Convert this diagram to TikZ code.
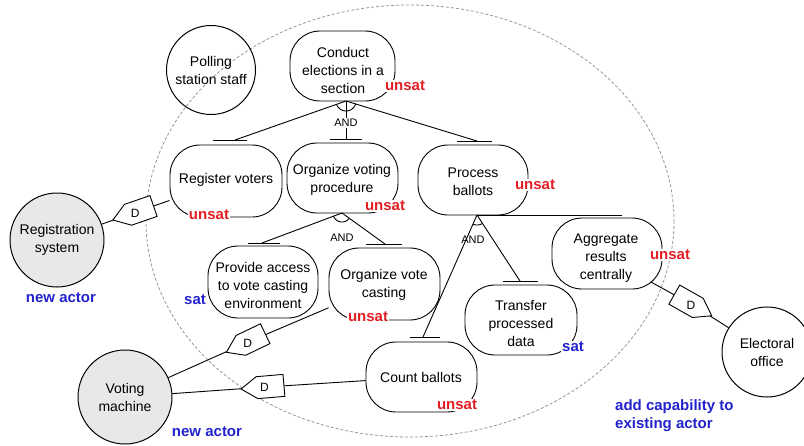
\documentclass[tikz,border=0pt]{standalone}
\usepackage{fontspec}
\setmainfont{Liberation Sans}
\definecolor{satred}{RGB}{225,30,35}
\definecolor{satblue}{RGB}{35,35,205}
\definecolor{actfill}{RGB}{232,232,232}
\definecolor{bnd}{RGB}{150,150,150}
\tikzset{
  goal/.style={draw, rounded corners=30pt, line width=0.9pt, inner sep=0pt},
  gtext/.style={align=center, font=\fontsize{14}{18}\selectfont, inner sep=0pt},
  actor/.style={draw, circle, line width=1pt, align=center, inner sep=0pt, font=\fontsize{14}{18}\selectfont},
  newactor/.style={actor, fill=actfill},
  statlab/.style={font=\fontsize{15}{18}\selectfont\bfseries, fill=white, inner sep=1pt},
  unsatlab/.style={statlab, text=satred},
  satlab/.style={statlab, text=satblue},
  notelab/.style={font=\fontsize{15}{18}\selectfont\bfseries, text=satblue, inner sep=0pt},
  andlab/.style={font=\fontsize{11}{12}\selectfont, inner sep=1pt},
  link/.style={line width=0.9pt},
  dbox/.style={draw, fill=white, line width=0.9pt},
  dlab/.style={font=\fontsize{12}{13}\selectfont, inner sep=0pt},
}
\begin{document}
\begin{tikzpicture}[x=1pt, y=-1pt]
\useasboundingbox (0,0) rectangle (804,445);
% actor boundary
\draw[bnd, line width=0.8pt, dash pattern=on 3pt off 2pt] (410,221) ellipse [x radius=264, y radius=216];

% actors
\node[actor, minimum size=89pt] (pss) at (211,70) {Polling\\station staff};
\node[newactor, minimum size=94pt] (regsys) at (57,240) {Registration\\system};
\node[newactor, minimum size=94pt] (vm) at (125,397) {Voting\\machine};
\node[actor, minimum size=90pt] (eo) at (767,352) {Electoral\\office};

% goals
\node[goal, minimum width=105pt, minimum height=70pt] (ce) at (342.5,66) {};
\node[gtext] (cet) at (343,70) {Conduct\\elections in a\\section};
\node[goal, minimum width=112pt, minimum height=72pt] (rv) at (226,181) {};
\node[gtext] (rvt) at (226,180) {Register voters};
\node[goal, minimum width=111pt, minimum height=70pt] (ovp) at (342.5,178) {};
\node[gtext] (ovpt) at (342,180) {Organize voting\\procedure};
\node[goal, minimum width=110pt, minimum height=70pt] (pb) at (473,180) {};
\node[gtext] (pbt) at (473,182) {Process\\ballots};
\node[goal, minimum width=110pt, minimum height=71pt] (ag) at (607,253.5) {};
\node[gtext] (agt) at (606,258) {Aggregate\\results\\centrally};
\node[goal, minimum width=110pt, minimum height=72pt] (pa) at (263,282) {};
\node[gtext] (pat) at (263,285) {Provide access\\to vote casting\\environment};
\node[goal, minimum width=111pt, minimum height=72pt] (ovc) at (384.5,284) {};
\node[gtext] (ovct) at (384,285) {Organize vote\\casting};
\node[goal, minimum width=112pt, minimum height=70pt] (tpd) at (521,320) {};
\node[gtext] (tpdt) at (521,323) {Transfer\\processed\\data};
\node[goal, minimum width=111pt, minimum height=70pt] (cb) at (421.5,377) {};
\node[gtext] (cbt) at (421,377) {Count ballots};

% decomposition junctions and bar points
\coordinate (j1) at (346,101);
\coordinate (j2) at (342,213);
\coordinate (j3) at (477,215);
\coordinate (brv) at (235,140);
\coordinate (bovp) at (346,139);
\coordinate (bpb) at (477,141);
\coordinate (bpa) at (262,243);
\coordinate (bovc) at (385,244);
\coordinate (bcb) at (423,337);
\coordinate (btpd) at (520,281);
\coordinate (bag) at (622,215);

\draw[link] (j1) -- (brv);
\draw[link] (j1) -- (bovp);
\draw[link] (j1) -- (bpb);
\draw[link] (j2) -- (bpa);
\draw[link] (j2) -- (bovc);
\draw[link] (j3) -- (bcb);
\draw[link] (j3) -- (btpd);
\draw[link] (j3) -- (bag);

% bars
\draw[link] (brv) ++(-22,0) -- ++(34,0);
\draw[link] (bovp) ++(-16,0) -- ++(32,0);
\draw[link] (bpb) ++(-20,0) -- ++(35,0);
\draw[link] (bpa) ++(-14,0) -- ++(32,0);
\draw[link] (bovc) ++(-19,0) -- ++(36,0);
\draw[link] (bcb) ++(-13,0) -- ++(30,0);
\draw[link] (btpd) ++(-17,0) -- ++(35,0);
\draw[link] (bag) ++(-34,0) -- ++(34,0);

% AND arcs
\draw[link, shift={(j1)}] plot[domain=16.9:160.5, samples=24] ({10*cos(\x)},{10*sin(\x)});
\draw[link, shift={(j2)}] plot[domain=34.9:160, samples=24] ({9*cos(\x)},{9*sin(\x)});
\draw[link, shift={(j3)}] plot[domain=56.9:113.9, samples=16] ({10*cos(\x)},{10*sin(\x)});

\node[andlab, fill=white] (and1) at (346,123) {AND};
\node[andlab] (and2) at (342,238) {AND};
\node[andlab] (and3) at (473,240) {AND};

% dependencies
\coordinate (d1) at (133.2,213);
\coordinate (d2) at (245.8,343);
\coordinate (d3) at (262.5,387.2);
\coordinate (d4) at (693,305.2);
\coordinate (agc) at (651,282);

\draw[link] (regsys) -- (d1) -- (rv);
\draw[link] (vm) -- (d2) -- (ovc);
\draw[link] (vm) -- (d3) -- (cb);
\draw[link] (eo) -- (d4) -- (agc);

\begin{scope}[shift={(d1)}, rotate=199]
  \draw[dbox] (21.5,0) -- (5.5,11) -- (-21.5,11) -- (-21.5,-11) -- (5.5,-11) -- cycle;
\end{scope}
\begin{scope}[shift={(d2)}, rotate=205.6]
  \draw[dbox] (21.5,0) -- (5.5,11) -- (-21.5,11) -- (-21.5,-11) -- (5.5,-11) -- cycle;
\end{scope}
\begin{scope}[shift={(d3)}, rotate=184.9]
  \draw[dbox] (21.5,0) -- (5.5,11) -- (-21.5,11) -- (-21.5,-11) -- (5.5,-11) -- cycle;
\end{scope}
\begin{scope}[shift={(d4)}, rotate=-29.5]
  \draw[dbox] (21.5,0) -- (5.5,11) -- (-21.5,11) -- (-21.5,-11) -- (5.5,-11) -- cycle;
\end{scope}
\node[dlab] (d1l) at ([xshift=2pt]d1) {D};
\node[dlab] (d2l) at ([xshift=2pt]d2) {D};
\node[dlab] (d3l) at ([xshift=2pt]d3) {D};
\node[dlab] (d4l) at ([xshift=-2pt]d4) {D};

% satisfaction labels
\node[unsatlab] (s1) at (405,86) {unsat};
\node[unsatlab] (s2) at (209,215) {unsat};
\node[unsatlab] (s3) at (385,206) {unsat};
\node[unsatlab] (s4) at (535,185) {unsat};
\node[unsatlab] (s5) at (670,255) {unsat};
\node[satlab] (s6) at (195,300) {sat};
\node[unsatlab] (s7) at (368,317) {unsat};
\node[satlab] (s8) at (573,347) {sat};
\node[unsatlab] (s9) at (457,405) {unsat};

% notes
\node[notelab] (n1) at (61,298) {new actor};
\node[notelab] (n2) at (207,432) {new actor};
\node[notelab, align=left, anchor=west] (n3) at (615,416) {add capability to\\existing actor};
\end{tikzpicture}
\end{document}
